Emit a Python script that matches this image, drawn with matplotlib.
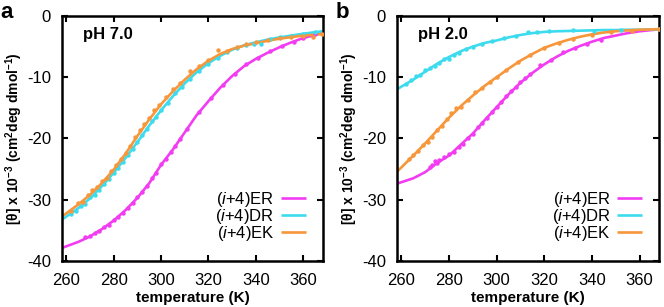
import matplotlib
matplotlib.use("Agg")
import matplotlib.pyplot as plt
from matplotlib.ticker import MultipleLocator

plt.rcParams["font.family"] = ["Liberation Sans", "DejaVu Sans"]
plt.rcParams["mathtext.fontset"] = "custom"
plt.rcParams["mathtext.rm"] = "Liberation Sans"
plt.rcParams["mathtext.it"] = "Liberation Sans:italic"
plt.rcParams["mathtext.bf"] = "Liberation Sans:bold"
plt.rcParams["axes.unicode_minus"] = False

MAGENTA = "#f23cf2"
CYAN = "#3ddbee"
ORANGE = "#f7963a"

# ---------------------------------------------------------------------------
# fitted curves
# ---------------------------------------------------------------------------
fit_T = [258, 265, 270, 275, 280, 285, 290, 295, 300, 305, 310, 315,
         320, 325, 330, 335, 340, 345, 350, 355, 360, 365, 368]

# pH 7.0
fit_a_er = [-37.9, -36.9, -36.0, -34.8, -33.4, -31.7, -29.7, -27.3, -24.3, -21.8, -19.0, -16.2,
            -13.9, -11.7, -9.8, -8.2, -7.0, -6.0, -5.1, -4.3, -3.6, -3.1, -2.7]
fit_a_dr = [-33.3, -31.4, -29.8, -27.8, -25.6, -23.2, -20.6, -17.9, -15.4, -13.1, -11.0, -9.2,
            -7.7, -6.5, -5.5, -4.8, -4.3, -3.85, -3.5, -3.2, -2.9, -2.65, -2.5]
fit_a_ek = [-32.8, -30.8, -29.2, -27.3, -25.1, -22.5, -19.6, -16.9, -14.4, -12.3, -10.4, -8.7,
            -7.3, -6.2, -5.4, -4.85, -4.45, -4.05, -3.7, -3.45, -3.2, -3.05, -2.95]

# pH 2.0
fit_b_er = [-27.4, -26.5, -25.5, -24.0, -22.8, -21.0, -19.2, -17.0, -14.9, -12.8, -10.9, -9.3,
            -7.9, -6.7, -5.7, -4.9, -4.2, -3.6, -3.2, -2.8, -2.5, -2.3, -2.2]
fit_b_dr = [-12.0, -10.4, -9.1, -7.8, -6.7, -5.75, -5.0, -4.4, -4.0, -3.5, -3.1, -2.8,
            -2.6, -2.5, -2.45, -2.4, -2.35, -2.3, -2.3, -2.25, -2.25, -2.2, -2.2]
fit_b_ek = [-25.5, -22.8, -20.8, -18.7, -16.6, -14.7, -13.0, -11.4, -10.0, -8.6, -7.3, -6.2,
            -5.2, -4.5, -3.9, -3.4, -3.0, -2.7, -2.5, -2.35, -2.25, -2.2, -2.15]

# ---------------------------------------------------------------------------
# measured points
# ---------------------------------------------------------------------------
pts_a_er_T = [268, 270, 272, 274, 276, 278, 280, 282, 284, 286, 288, 290, 292, 294, 296, 298,
              300, 302, 304, 306, 308, 311, 316, 321, 326, 331, 336, 341, 346, 351, 356, 360, 365]
pts_a_er = [-36.1, -36.0, -35.4, -35.1, -34.4, -34.1, -33.3, -32.8, -32.1, -31.3, -30.6, -29.6,
            -28.8, -27.7, -26.5, -25.6, -24.2, -23.4, -22.2, -21.3, -20.1, -18.4, -15.6, -13.4,
            -11.3, -9.4, -7.9, -6.8, -5.8, -4.9, -4.2, -3.6, -3.0]

pts_a_dr_T = [262, 264, 266, 268, 270, 272, 274, 276, 278, 280, 282, 284, 286, 288, 290, 292,
              294, 296, 298, 300, 303, 306, 309, 312, 316, 320, 324, 328, 332, 336, 339, 342,
              346, 350, 355, 360, 365]
pts_a_dr = [-32.3, -31.9, -31.0, -30.7, -29.6, -29.3, -28.4, -27.5, -26.6, -25.7, -24.8, -23.8,
            -22.7, -21.8, -20.5, -19.4, -18.5, -17.2, -16.5, -15.3, -14.2, -12.6, -11.6, -10.3,
            -9.0, -7.8, -6.8, -5.9, -5.2, -4.7, -4.5, -4.5, -3.8, -3.4, -3.2, -2.9, -2.6]

pts_a_ek_T = [262, 265, 267, 269, 271, 273, 275, 277, 279, 281, 283, 285, 287, 289, 291, 293,
              295, 297, 299, 302, 305, 308, 312, 316, 320, 324, 328, 332, 336, 340, 345, 350,
              355, 360, 364, 368]
pts_a_ek = [-31.8, -30.6, -30.3, -29.2, -28.4, -27.9, -26.9, -26.5, -25.3, -24.4, -23.4, -22.3,
            -21.3, -19.8, -18.7, -17.6, -16.7, -15.4, -14.6, -13.3, -12.0, -10.9, -9.0, -8.2,
            -7.2, -5.6, -5.7, -5.0, -4.6, -4.3, -3.9, -3.6, -3.4, -3.2, -3.4, -3.0]

pts_b_er_T = [272, 273, 274, 275, 276, 278, 280, 282, 284, 286, 288, 290, 292, 294, 296, 298,
              300, 302, 304, 306, 308, 310, 312, 314, 318, 323, 328, 333, 338, 344]
pts_b_er = [-24.6, -24.3, -23.7, -24.0, -23.5, -23.1, -22.6, -22.2, -21.4, -20.9, -20.0, -19.3,
            -18.2, -17.5, -16.6, -15.7, -14.9, -14.0, -13.1, -12.2, -11.6, -10.8, -10.1, -9.4,
            -8.0, -7.2, -5.9, -5.3, -4.6, -3.9]

pts_b_dr_T = [262, 264, 266, 268, 270, 272, 274, 276, 278, 280, 282, 284, 287, 290, 294, 298,
              303, 308, 313, 317, 322, 332, 341, 352, 368]
pts_b_dr = [-11.1, -10.4, -9.8, -9.6, -8.9, -8.5, -8.1, -7.6, -7.1, -7.0, -6.4, -6.0, -5.4,
            -5.0, -4.5, -4.1, -3.6, -3.2, -2.6, -2.6, -2.5, -2.3, -2.4, -2.3, -2.2]

pts_b_ek_T = [263, 265, 267, 269, 271, 273, 275, 277, 279, 281, 283, 285, 288, 291, 294, 297,
              300, 304, 309, 314, 320, 326, 332, 340, 348, 357, 368]
pts_b_ek = [-23.4, -22.7, -22.0, -21.1, -20.5, -19.8, -18.6, -17.9, -16.9, -15.9, -15.0, -14.9,
            -13.7, -12.4, -11.8, -10.8, -10.0, -8.9, -7.5, -6.4, -5.2, -4.4, -3.8, -3.1, -2.6,
            -2.4, -2.2]

series_names = ["($\\it{i}$+4)ER", "($\\it{i}$+4)DR", "($\\it{i}$+4)EK"]
colors = [MAGENTA, CYAN, ORANGE]

panels = [
    dict(letter="a", title="pH 7.0",
         fits=[fit_a_er, fit_a_dr, fit_a_ek],
         pts=[(pts_a_er_T, pts_a_er), (pts_a_dr_T, pts_a_dr), (pts_a_ek_T, pts_a_ek)],
         rect=[0.0934, 0.150, 0.393, 0.798]),
    dict(letter="b", title="pH 2.0",
         fits=[fit_b_er, fit_b_dr, fit_b_ek],
         pts=[(pts_b_er_T, pts_b_er), (pts_b_dr_T, pts_b_dr), (pts_b_ek_T, pts_b_ek)],
         rect=[0.598, 0.150, 0.395, 0.798]),
]

fig = plt.figure(figsize=(6.64, 3.07), dpi=100)

for p in panels:
    ax = fig.add_axes(p["rect"])
    handles = []
    for fit, (pt_T, pt_v), color, name in zip(p["fits"], p["pts"], colors, series_names):
        ax.plot(pt_T, pt_v, "o", ms=3.2, color=color, mec="none", zorder=3)
        (ln,) = ax.plot(fit_T, fit, "-", lw=1.9, color=color, label=name, zorder=2,
                        solid_capstyle="butt")
        handles.append(ln)

    ax.set_xlim(258.2, 368.3)
    ax.set_ylim(-40, 0)
    ax.xaxis.set_major_locator(MultipleLocator(20))
    ax.yaxis.set_major_locator(MultipleLocator(10))
    ax.tick_params(direction="in", length=4, width=1.5, top=True, right=True,
                   labelsize=12)
    ax.tick_params(axis="x", pad=9)
    ax.tick_params(axis="y", pad=8)
    for s in ax.spines.values():
        s.set_linewidth(1.8)

    ax.set_xlabel("temperature (K)", fontsize=11, fontweight="bold", labelpad=2)
    ax.set_ylabel("[θ] x 10$^{\\mathbf{-3}}$ (cm$^{\\mathbf{2}}$deg dmol$^{\\mathbf{-1}}$)",
                  fontsize=10, fontweight="bold", labelpad=1)

    ax.text(0.08, 0.925, p["title"], transform=ax.transAxes, fontsize=12,
            fontweight="bold", va="center", ha="left")

    ax.legend(handles=handles, loc="lower right", bbox_to_anchor=(0.98, 0.025),
              frameon=False, markerfirst=False, fontsize=12, handlelength=1.5,
              handletextpad=0.4, labelspacing=-0.12, borderpad=0.2)

    x0 = p["rect"][0]
    fig.text(x0 - 0.093, 0.995, p["letter"], fontsize=16, fontweight="bold",
             ha="left", va="top")

fig.savefig("out.png", dpi=100)
